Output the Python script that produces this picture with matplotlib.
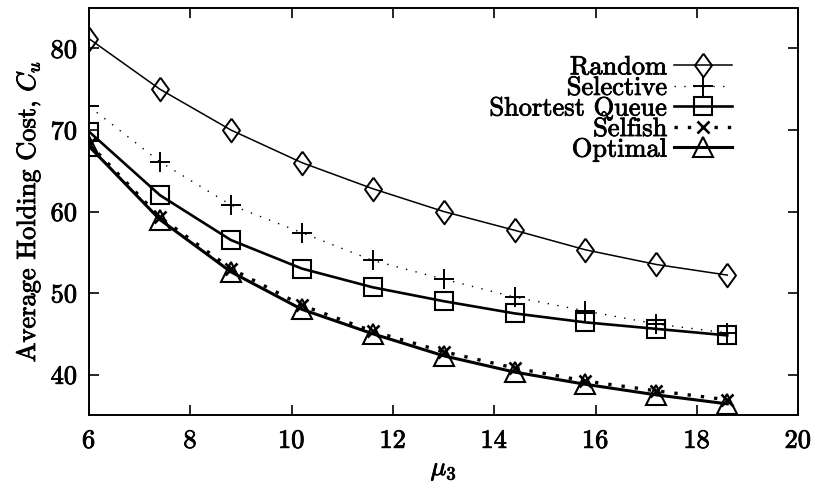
import numpy as np
import matplotlib
matplotlib.use("Agg")
import matplotlib.pyplot as plt
import matplotlib.patheffects as pe

plt.rcParams['font.family'] = ['cmr10', 'DejaVu Serif']
plt.rcParams['mathtext.fontset'] = 'cm'
plt.rcParams['axes.formatter.use_mathtext'] = True

# service rate of the third server
mu3 = [6.0, 7.4, 8.8, 10.2, 11.6, 13.0, 14.4, 15.8, 17.2, 18.6]

random_cost = [81.2, 75.0, 70.0, 66.0, 62.8, 60.0, 57.7, 55.3, 53.5, 52.2]
selective_cost = [72.9, 66.1, 60.8, 57.4, 54.0, 51.7, 49.5, 47.8, 46.2, 45.1]
shortest_cost = [69.8, 62.0, 56.5, 53.0, 50.7, 49.0, 47.5, 46.4, 45.6, 44.8]
selfish_cost = [68.3, 59.3, 53.0, 48.5, 45.3, 42.8, 40.8, 39.2, 38.0, 36.9]
optimal_cost = [68.0, 59.0, 52.6, 48.0, 45.0, 42.3, 40.3, 38.8, 37.5, 36.4]

labels = ["Random", "Selective", "Shortest Queue", "Selfish", "Optimal"]

diamond = [(0, 1), (0.72, 0), (0, -1), (-0.72, 0), (0, 1)]

fig = plt.figure(figsize=(8.17, 4.84), dpi=100)
ax = fig.add_axes([0.109, 0.142, 0.868, 0.842])

ax.plot(mu3, random_cost, color='k', lw=1.1, marker=diamond, ms=17,
        mfc='none', mew=1.4, label=labels[0])
ax.plot(mu3, selective_cost, color='k', lw=1.0, ls=(0, (1, 6)), marker='+',
        ms=15, mew=1.4, label=labels[1])
ax.plot(mu3, shortest_cost, color='k', lw=1.9, marker='s', ms=13,
        mfc='none', mew=1.5, label=labels[2])
ax.plot(mu3, selfish_cost, color='k', lw=2.4, ls=(0, (1, 3)), marker='x',
        ms=9, mew=1.9, label=labels[3])
ax.plot(mu3, optimal_cost, color='k', lw=2.2, marker='^', ms=15,
        mfc='none', mew=1.5, label=labels[4])

ax.set_xlim(6, 20)
ax.set_ylim(35, 85)
ax.set_xticks(np.arange(6, 21, 2))
ax.set_yticks(np.arange(40, 81, 10))
ax.tick_params(direction='in', length=7, width=1.2, labelsize=19,
               top=True, right=True)
ax.tick_params(axis='y', pad=8)
ax.tick_params(axis='x', pad=10)
for s in ax.spines.values():
    s.set_linewidth(1.4)

ax.set_xlabel(r'$\mu_3$', fontsize=19, labelpad=4)
ax.set_ylabel(r'Average Holding Cost, $C_u$', fontsize=19, labelpad=6)

leg = ax.legend(loc='upper right', bbox_to_anchor=(0.925, 0.915),
                frameon=False, markerfirst=False, fontsize=19,
                handlelength=2.2, handletextpad=0.25, labelspacing=-0.12,
                borderpad=0)
for t in leg.get_texts():
    t.set_ha('right')

# heavier strokes on all the lettering
thick = [pe.withStroke(linewidth=0.6, foreground='k')]
texts = ax.get_xticklabels() + ax.get_yticklabels() + leg.get_texts()
texts += [ax.xaxis.label, ax.yaxis.label]
for t in texts:
    t.set_path_effects(thick)

fig.savefig('out.png', dpi=100)
